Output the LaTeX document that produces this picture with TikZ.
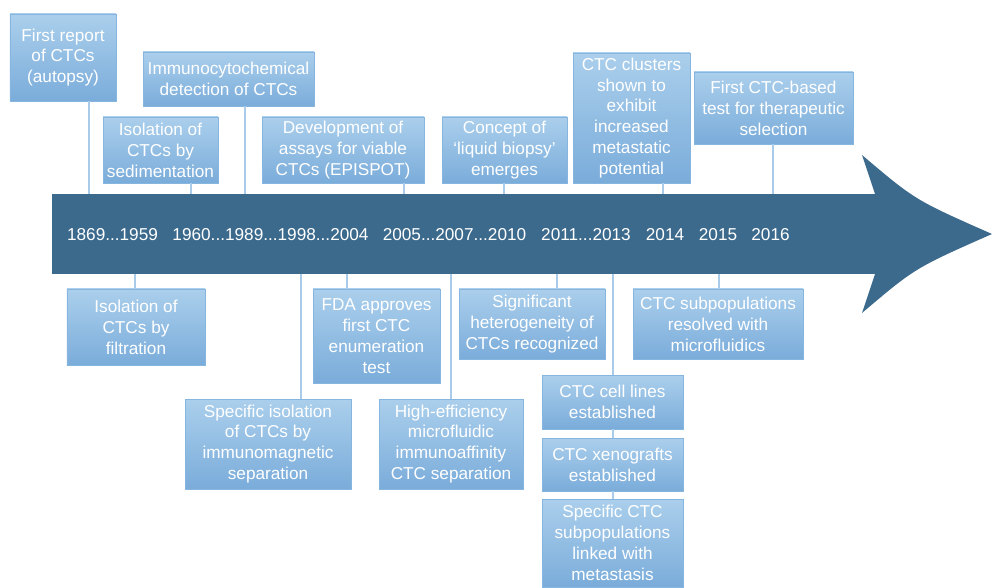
\documentclass[tikz,border=0pt]{standalone}
\usepackage{fontspec}
\setmainfont{Liberation Sans}
\definecolor{bandc}{HTML}{3C6A8D}
\definecolor{boxtop}{HTML}{ABCFEC}
\definecolor{boxbot}{HTML}{7AACDA}
\definecolor{boxline}{HTML}{86B6DF}
\definecolor{linkc}{HTML}{A8CCEA}
\begin{document}
\begin{tikzpicture}[x=1bp,y=-1bp,
  box/.style={draw=boxline, line width=0.9bp, top color=boxtop, bottom color=boxbot,
    text=white, align=center, inner sep=0pt, outer sep=0pt,
    font=\fontsize{17.2bp}{20.9bp}\selectfont},
  link/.style={draw=linkc, line width=1.8bp},
  yr/.style={text=white, anchor=base, inner sep=0pt, font=\fontsize{17.2bp}{20bp}\selectfont}]
\useasboundingbox (0,0) rectangle (992,588);

% the time line
\node[fill=bandc, minimum width=824bp, minimum height=80bp, inner sep=0pt, outer sep=0pt] (band) at (464,234) {};
\fill[bandc] ([xshift=-1bp]band.north east) -- (862,155) .. controls (915,200) .. (992,234)
  .. controls (915,268) .. (862,313) -- ([xshift=-1bp]band.south east) -- cycle;

\node[yr] (y1) at (112.5,241) {1869...1959};
\node[yr] (y2) at (270.5,241) {1960...1989...1998...2004};
\node[yr] (y3) at (454.5,241) {2005...2007...2010};
\node[yr] (y4) at (586,241) {2011...2013};
\node[yr] (y5) at (665,241) {2014};
\node[yr] (y6) at (718,241) {2015};
\node[yr] (y7) at (770.5,241) {2016};

% events above
\node[box, minimum width=106bp, minimum height=87bp] (rep) at (63,57.5) {First report\\of CTCs\\(autopsy)};
\node[box, minimum width=171bp, minimum height=54bp] (imm) at (228.5,79) {Immunocytochemical\\detection of CTCs};
\node[box, minimum width=115bp, minimum height=66bp] (sed) at (160.5,150) {Isolation of\\CTCs by\\sedimentation};
\node[box, minimum width=162bp, minimum height=66bp] (dev) at (343,150) {Development of\\assays for viable\\CTCs (EPISPOT)};
\node[box, minimum width=125bp, minimum height=66bp] (liq) at (504.5,150) {Concept of\\‘liquid biopsy’\\emerges};
\node[box, minimum width=117bp, minimum height=130bp] (clu) at (631.5,118) {CTC clusters\\shown to\\exhibit\\increased\\metastatic\\potential};
\node[box, minimum width=159bp, minimum height=72bp] (sel) at (773.5,108) {First CTC-based\\test for therapeutic\\selection};

% events below
\node[box, minimum width=138bp, minimum height=76bp] (filt) at (136,327) {Isolation of\\CTCs by\\filtration};
\node[box, minimum width=127bp, minimum height=94bp] (fda) at (376.5,336) {FDA approves\\first CTC\\enumeration\\test};
\node[box, minimum width=146bp, minimum height=70bp] (het) at (532,324) {Significant\\heterogeneity of\\CTCs recognized};
\node[box, minimum width=170bp, minimum height=70bp] (sub) at (718,324) {CTC subpopulations\\resolved with\\microfluidics};
\node[box, minimum width=166bp, minimum height=90bp] (isol) at (268,444) {Specific isolation\\of CTCs by\\immunomagnetic\\separation};
\node[box, minimum width=144bp, minimum height=90bp] (hie) at (451,444) {High-efficiency\\microfluidic\\immunoaffinity\\CTC separation};
\node[box, minimum width=141bp, minimum height=54bp] (cell) at (612.5,402) {CTC cell lines\\established};
\node[box, minimum width=141bp, minimum height=53bp] (xen) at (612.5,464.5) {CTC xenografts\\established};
\node[box, minimum width=141bp, minimum height=88bp] (spec) at (612.5,543) {Specific CTC\\subpopulations\\linked with\\metastasis};

% ticks
\foreach \n/\cx in {rep/89, sed/191, imm/245, dev/404, liq/504, clu/663, sel/773}
  \draw[link] (\n.south -| \cx,0) -- (band.north -| \cx,0);
\foreach \n/\cx in {filt/135, isol/301, fda/347, hie/451, het/557, cell/613, sub/719}
  \draw[link] (band.south -| \cx,0) -- (\n.north -| \cx,0);
\draw[link] (cell.south -| 613,0) -- (xen.north -| 613,0);
\draw[link] (xen.south -| 613,0) -- (spec.north -| 613,0);
\end{tikzpicture}
\end{document}
